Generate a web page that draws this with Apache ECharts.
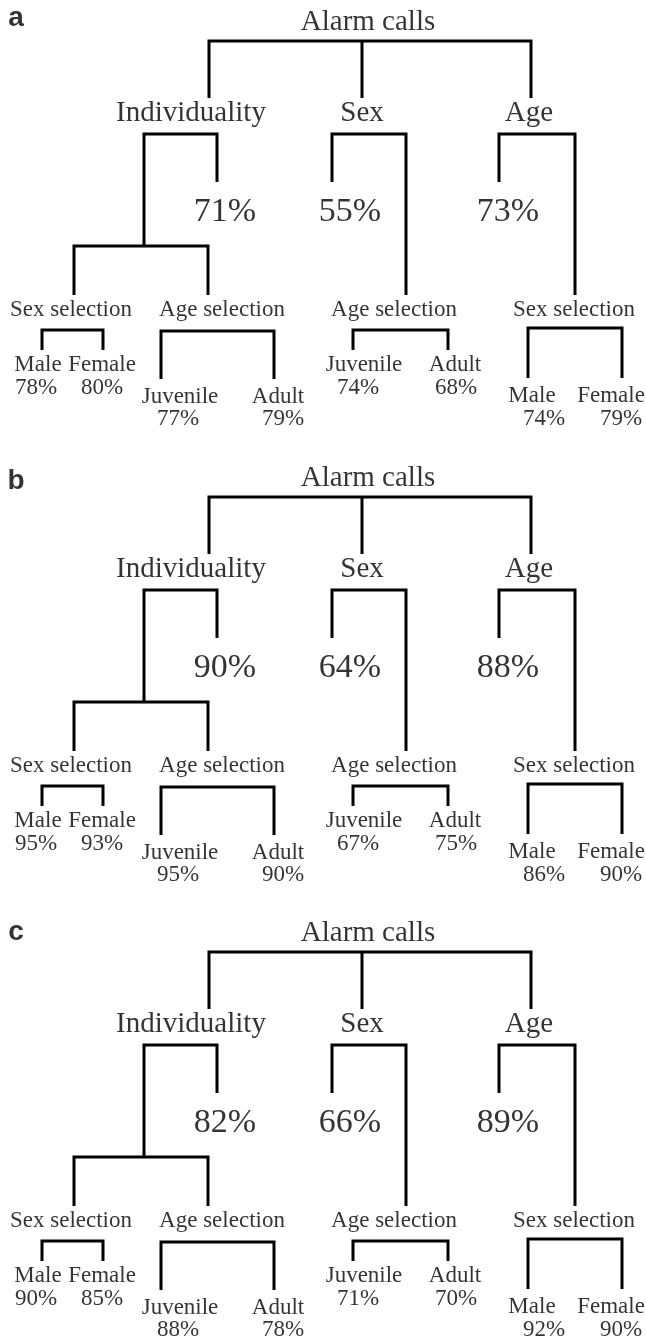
<!DOCTYPE html>
<html>
<head>
<meta charset="utf-8">
<script src="https://cdn.jsdelivr.net/npm/echarts@6/dist/echarts.min.js"></script>
<style>
  html, body { margin: 0; padding: 0; background: #fff; }
  #chart { width: 646px; height: 1341px; }
</style>
</head>
<body>
<div id="chart"></div>
<script>
// ---- values ----
const panelTags = ['a', 'b', 'c'];
const rootName = 'Alarm calls';
const cueNames = ['Individuality', 'Sex', 'Age'];
const cueAccA = [71, 55, 73];
const cueAccB = [90, 64, 88];
const cueAccC = [82, 66, 89];
const subNames = ['Sex selection', 'Age selection', 'Age selection', 'Sex selection'];
const leafNames = ['Male', 'Female', 'Juvenile', 'Adult', 'Juvenile', 'Adult', 'Male', 'Female'];
const leafAccA = [78, 80, 77, 79, 74, 68, 74, 79];
const leafAccB = [95, 93, 95, 90, 67, 75, 86, 90];
const leafAccC = [90, 85, 88, 78, 71, 70, 92, 90];

const cueAcc = [cueAccA, cueAccB, cueAccC];
const leafAcc = [leafAccA, leafAccB, leafAccC];

// ---- layout (panel-relative, px) ----
const W = 646, H = 1341;
const panelTop = [0, 456, 911];
const tagBase = [28, 35, 31];
const rootPos = [368, 32];
const cueX = [191, 362, 529], cueBase = 123;
const accX = [225, 350, 508], accBase = 224;
const subX = [71, 222, 394, 574], subBase = 318;
const leafX = [38, 102, 180, 278, 364, 455, 532, 611];
const leafBase = [373, 373, 405, 405, 373, 373, 404, 404];
const leafAccX = [36, 102, 178, 283, 358, 456, 544, 621];
const leafAccBase = [396, 396, 427, 427, 396, 396, 427, 427];

// brackets: horizontal at top, one vertical per child going down to its end
const brackets = [
  { top: 41, xs: [209, 362, 531], ends: [98, 98, 98] },
  { top: 134, xs: [144, 217], ends: [246, 182] },
  { top: 246, xs: [74, 208], ends: [295, 295] },
  { top: 330, xs: [42, 103], ends: [350, 350] },
  { top: 331, xs: [161, 274], ends: [379, 379] },
  { top: 134, xs: [332, 406], ends: [182, 295] },
  { top: 330, xs: [353, 448], ends: [350, 350] },
  { top: 134, xs: [499, 575], ends: [182, 295] },
  { top: 328, xs: [528, 622], ends: [378, 378] }
];

const serif = '"Liberation Serif", "Times New Roman", serif';

let lineData = [];
let tagTexts = [], bigTexts = [], accTexts = [], smallTexts = [];
panelTags.forEach((tag, i) => {
  const dy = panelTop[i];
  brackets.forEach(b => {
    const n = b.xs.length;
    lineData.push({ coords: [
      [b.xs[0], b.ends[0] + dy], [b.xs[0], b.top + dy],
      [b.xs[n - 1], b.top + dy], [b.xs[n - 1], b.ends[n - 1] + dy]
    ] });
    for (let k = 1; k < n - 1; k++) {
      lineData.push({ coords: [[b.xs[k], b.top + dy], [b.xs[k], b.ends[k] + dy]] });
    }
  });
  tagTexts.push({ text: tag, x: 16, y: tagBase[i] + dy });
  bigTexts.push({ text: rootName, x: rootPos[0], y: rootPos[1] + dy });
  cueNames.forEach((nm, k) => {
    bigTexts.push({ text: nm, x: cueX[k], y: cueBase + dy });
    accTexts.push({ text: cueAcc[i][k] + '%', x: accX[k], y: accBase + dy });
  });
  subNames.forEach((nm, k) => smallTexts.push({ text: nm, x: subX[k], y: subBase + dy }));
  leafNames.forEach((nm, k) => {
    smallTexts.push({ text: nm, x: leafX[k], y: leafBase[k] + dy });
    smallTexts.push({ text: leafAcc[i][k] + '%', x: leafAccX[k], y: leafAccBase[k] + dy });
  });
});

function textSeries(items, size, family, weight) {
  return {
    type: 'scatter',
    symbolSize: 0,
    silent: true,
    clip: false,
    itemStyle: { color: '#000' },
    data: items.map(t => ({ name: t.text, value: [t.x, t.y - 0.34 * size] })),
    label: {
      show: true,
      position: 'inside',
      formatter: '{b}',
      color: '#000',
      textBorderWidth: 0,
      fontSize: size,
      fontFamily: family,
      fontWeight: weight,
      align: 'center',
      verticalAlign: 'middle'
    }
  };
}

const chart = echarts.init(document.getElementById('chart'));
chart.setOption({
  animation: false,
  backgroundColor: '#fff',
  grid: { left: 0, right: 0, top: 0, bottom: 0 },
  xAxis: { type: 'value', min: 0, max: W, show: false },
  yAxis: { type: 'value', min: 0, max: H, inverse: true, show: false },
  series: [
    {
      type: 'lines',
      coordinateSystem: 'cartesian2d',
      polyline: true,
      silent: true,
      lineStyle: { color: '#000', width: 3, opacity: 1, cap: 'butt', join: 'miter' },
      data: lineData
    },
    textSeries(tagTexts, 28, '"Liberation Sans", Arial, sans-serif', 'bold'),
    textSeries(bigTexts, 29, serif, 'normal'),
    textSeries(accTexts, 34, serif, 'normal'),
    textSeries(smallTexts, 23, serif, 'normal')
  ]
});
</script>
</body>
</html>
